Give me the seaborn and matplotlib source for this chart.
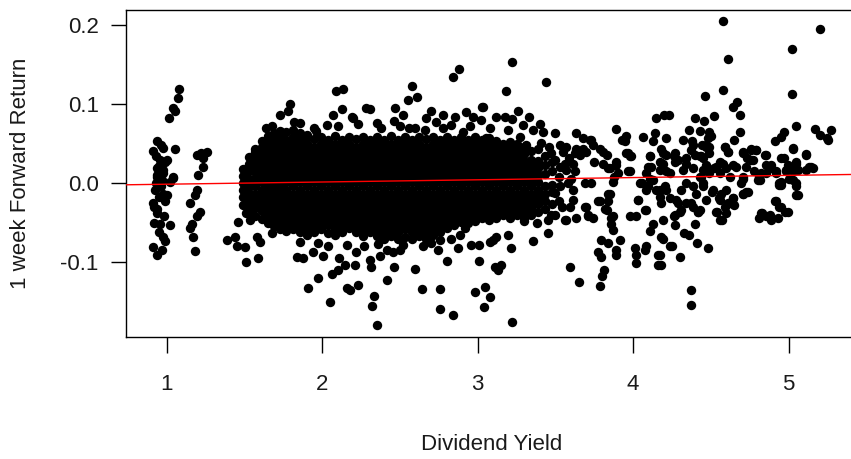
import matplotlib
matplotlib.use("Agg")
import matplotlib.pyplot as plt
import pandas as pd
import seaborn as sns

# ------------------------------------------------------------------
# Data (dividend yield, 1-week return)
# ------------------------------------------------------------------
cluster_near_1 = [
    (1.081, 0.119), (1.071, 0.108), (1.043, 0.095), (1.053, 0.091), (1.013, 0.082),
    (0.940, 0.054), (0.914, 0.041), (0.978, 0.045), (1.053, 0.043), (0.957, 0.029),
    (0.989, 0.027), (0.936, 0.019), (0.957, 0.015), (0.978, 0.017), (0.936, 0.008),
    (1.043, 0.007), (0.936, 0.010), (0.978, 0.013), (1.043, 0.008), (0.925, -0.008),
    (0.978, -0.013), (1.000, -0.015), (0.914, -0.025), (0.936, -0.032), (0.936, -0.038),
    (0.957, -0.051), (1.021, -0.053), (0.978, -0.068), (0.989, -0.073), (0.910, -0.081),
    (0.936, -0.091), (0.968, -0.085), (0.930, 0.035), (0.950, 0.022), (0.970, 0.004),
    (0.930, 0.000), (0.960, -0.004), (0.950, -0.018), (0.920, -0.050), (0.950, -0.062),
    (0.980, -0.042), (1.000, 0.030), (1.020, 0.002), (0.990, -0.022), (0.960, 0.048),
    (0.920, -0.030),
]

cluster_near_1_2 = [
    (1.193, 0.036), (1.261, 0.040), (1.235, 0.032), (1.235, 0.021), (1.203, 0.011),
    (1.193, -0.008), (1.182, -0.015), (1.150, -0.025), (1.214, -0.036), (1.193, -0.042),
    (1.160, -0.051), (1.150, -0.057), (1.170, -0.068), (1.180, -0.086), (1.220, 0.038),
]

# dense core, column by column (x, returns)
core_columns = [
    (1.490, [0.018, 0.009, 0.000, -0.009, -0.018, -0.027]),
    (1.530, [0.033, 0.024, 0.015, 0.006, -0.003, -0.012, -0.021, -0.030, -0.038]),
    (1.570, [0.043, 0.032, 0.023, 0.014, 0.005, -0.004, -0.013, -0.022, -0.031, -0.041]),
    (1.610, [0.053, 0.046, 0.037, 0.028, 0.019, 0.010, 0.001, -0.008, -0.017, -0.026, -0.035, -0.045]),
    (1.650, [0.060, 0.050, 0.041, 0.032, 0.023, 0.014, 0.005, -0.004, -0.013, -0.022, -0.031, -0.040, -0.050]),
    (1.690, [0.064, 0.055, 0.046, 0.037, 0.028, 0.019, 0.010, 0.001, -0.008, -0.017, -0.026, -0.035, -0.044, -0.054]),
    (1.730, [0.066, 0.059, 0.050, 0.041, 0.032, 0.023, 0.014, 0.005, -0.004, -0.013, -0.022, -0.031, -0.040, -0.049, -0.058]),
    (1.770, [0.065, 0.055, 0.046, 0.037, 0.028, 0.019, 0.010, 0.001, -0.008, -0.017, -0.026, -0.035, -0.044, -0.053, -0.060]),
    (1.810, [0.068, 0.059, 0.050, 0.041, 0.032, 0.023, 0.014, 0.005, -0.004, -0.013, -0.022, -0.031, -0.040, -0.049, -0.058]),
    (1.855, [0.063, 0.055, 0.046, 0.037, 0.028, 0.019, 0.010, 0.001, -0.008, -0.017, -0.026, -0.035, -0.044, -0.053, -0.062]),
    (1.900, [0.059, 0.050, 0.041, 0.032, 0.023, 0.014, 0.005, -0.004, -0.013, -0.022, -0.031, -0.040, -0.049, -0.058, -0.065]),
    (1.945, [0.056, 0.046, 0.037, 0.028, 0.019, 0.010, 0.001, -0.008, -0.017, -0.026, -0.035, -0.044, -0.053, -0.062]),
    (1.990, [0.058, 0.050, 0.041, 0.032, 0.023, 0.014, 0.005, -0.004, -0.013, -0.022, -0.031, -0.040, -0.049, -0.058]),
    (2.035, [0.055, 0.046, 0.037, 0.028, 0.019, 0.010, 0.001, -0.008, -0.017, -0.026, -0.035, -0.044, -0.053, -0.063]),
    (2.080, [0.060, 0.050, 0.041, 0.032, 0.023, 0.014, 0.005, -0.004, -0.013, -0.022, -0.031, -0.040, -0.049, -0.058, -0.066]),
    (2.125, [0.055, 0.046, 0.037, 0.028, 0.019, 0.010, 0.001, -0.008, -0.017, -0.026, -0.035, -0.044, -0.053, -0.062]),
    (2.170, [0.059, 0.050, 0.041, 0.032, 0.023, 0.014, 0.005, -0.004, -0.013, -0.022, -0.031, -0.040, -0.049, -0.057]),
    (2.215, [0.056, 0.046, 0.037, 0.028, 0.019, 0.010, 0.001, -0.008, -0.017, -0.026, -0.035, -0.044, -0.053, -0.062]),
    (2.260, [0.059, 0.050, 0.041, 0.032, 0.023, 0.014, 0.005, -0.004, -0.013, -0.022, -0.031, -0.040, -0.049, -0.058, -0.067]),
    (2.305, [0.055, 0.046, 0.037, 0.028, 0.019, 0.010, 0.001, -0.008, -0.017, -0.026, -0.035, -0.044, -0.053, -0.062]),
    (2.350, [0.058, 0.050, 0.041, 0.032, 0.023, 0.014, 0.005, -0.004, -0.013, -0.022, -0.031, -0.040, -0.049, -0.058, -0.067]),
    (2.395, [0.055, 0.046, 0.037, 0.028, 0.019, 0.010, 0.001, -0.008, -0.017, -0.026, -0.035, -0.044, -0.053, -0.062, -0.071]),
    (2.440, [0.060, 0.050, 0.041, 0.032, 0.023, 0.014, 0.005, -0.004, -0.013, -0.022, -0.031, -0.040, -0.049, -0.058, -0.067]),
    (2.485, [0.055, 0.046, 0.037, 0.028, 0.019, 0.010, 0.001, -0.008, -0.017, -0.026, -0.035, -0.044, -0.053, -0.062, -0.070]),
    (2.530, [0.059, 0.050, 0.041, 0.032, 0.023, 0.014, 0.005, -0.004, -0.013, -0.022, -0.031, -0.040, -0.049, -0.058, -0.068]),
    (2.575, [0.055, 0.046, 0.037, 0.028, 0.019, 0.010, 0.001, -0.008, -0.017, -0.026, -0.035, -0.044, -0.053, -0.062, -0.071]),
    (2.620, [0.058, 0.050, 0.041, 0.032, 0.023, 0.014, 0.005, -0.004, -0.013, -0.022, -0.031, -0.040, -0.049, -0.058, -0.067]),
    (2.665, [0.056, 0.046, 0.037, 0.028, 0.019, 0.010, 0.001, -0.008, -0.017, -0.026, -0.035, -0.044, -0.053, -0.062, -0.071]),
    (2.710, [0.059, 0.050, 0.041, 0.032, 0.023, 0.014, 0.005, -0.004, -0.013, -0.022, -0.031, -0.040, -0.049, -0.058, -0.066]),
    (2.755, [0.055, 0.046, 0.037, 0.028, 0.019, 0.010, 0.001, -0.008, -0.017, -0.026, -0.035, -0.044, -0.053, -0.062]),
    (2.800, [0.058, 0.050, 0.041, 0.032, 0.023, 0.014, 0.005, -0.004, -0.013, -0.022, -0.031, -0.040, -0.049, -0.057]),
    (2.845, [0.055, 0.046, 0.037, 0.028, 0.019, 0.010, 0.001, -0.008, -0.017, -0.026, -0.035, -0.044, -0.053]),
    (2.890, [0.059, 0.050, 0.041, 0.032, 0.023, 0.014, 0.005, -0.004, -0.013, -0.022, -0.031, -0.040, -0.049]),
    (2.935, [0.055, 0.046, 0.037, 0.028, 0.019, 0.010, 0.001, -0.008, -0.017, -0.026, -0.035, -0.044, -0.050]),
    (2.980, [0.058, 0.050, 0.041, 0.032, 0.023, 0.014, 0.005, -0.004, -0.013, -0.022, -0.031, -0.040, -0.048]),
    (3.025, [0.055, 0.046, 0.037, 0.028, 0.019, 0.010, 0.001, -0.008, -0.017, -0.026, -0.035, -0.044]),
    (3.070, [0.057, 0.050, 0.041, 0.032, 0.023, 0.014, 0.005, -0.004, -0.013, -0.022, -0.031, -0.040, -0.046]),
    (3.115, [0.054, 0.046, 0.037, 0.028, 0.019, 0.010, 0.001, -0.008, -0.017, -0.026, -0.035, -0.044]),
    (3.160, [0.050, 0.041, 0.032, 0.023, 0.014, 0.005, -0.004, -0.013, -0.022, -0.031, -0.040]),
    (3.205, [0.052, 0.046, 0.037, 0.028, 0.019, 0.010, 0.001, -0.008, -0.017, -0.026, -0.035, -0.044]),
    (3.250, [0.050, 0.041, 0.032, 0.023, 0.014, 0.005, -0.004, -0.013, -0.022, -0.031, -0.040]),
    (3.295, [0.046, 0.037, 0.028, 0.019, 0.010, 0.001, -0.008, -0.017, -0.026, -0.035, -0.044]),
    (3.340, [0.041, 0.030, 0.023, 0.014, 0.005, -0.004, -0.013, -0.022, -0.031, -0.040]),
    (3.385, [0.044, 0.028, 0.019, 0.010, 0.001, -0.008, -0.017, -0.026, -0.037]),
    (3.430, [0.034, 0.023, 0.012, -0.004, -0.013, -0.022, -0.033]),
    (3.475, [0.027, 0.016, -0.002, -0.011, -0.026]),
]

upper_edge = [
    (1.792, 0.100), (1.730, 0.086), (1.780, 0.091), (1.820, 0.077), (1.640, 0.070),
    (1.675, 0.072), (1.567, 0.040), (1.730, 0.063), (2.088, 0.117), (2.131, 0.119),
    (2.070, 0.086), (2.130, 0.094), (2.190, 0.084), (2.200, 0.082), (2.280, 0.095),
    (2.310, 0.094), (2.350, 0.076), (2.030, 0.074), (1.960, 0.066), (1.900, 0.061),
    (1.857, 0.076), (2.470, 0.095), (2.520, 0.086), (2.575, 0.123), (2.554, 0.105),
    (2.610, 0.109), (2.463, 0.079), (2.500, 0.072), (2.600, 0.070), (2.700, 0.092),
    (2.670, 0.082), (2.735, 0.078), (2.778, 0.086), (2.842, 0.135), (2.880, 0.144),
    (2.853, 0.084), (2.830, 0.074), (2.928, 0.090), (2.970, 0.084), (3.030, 0.097),
    (3.024, 0.080), (2.906, 0.065), (3.056, 0.057), (3.221, 0.154), (3.180, 0.117),
    (3.440, 0.128), (3.035, 0.096), (3.120, 0.084), (3.174, 0.084), (3.220, 0.081),
    (3.260, 0.092), (3.330, 0.084), (3.290, 0.074), (3.400, 0.075), (3.195, 0.067),
    (3.356, 0.067), (3.420, 0.065), (3.495, 0.063), (3.630, 0.064), (3.680, 0.057),
    (3.720, 0.055), (3.890, 0.069), (3.956, 0.060), (3.930, 0.055), (4.063, 0.058),
    (4.140, 0.063), (4.127, 0.054), (4.150, 0.082), (4.200, 0.087), (4.210, 0.057),
    (3.270, 0.059), (3.310, 0.048), (3.410, 0.051), (3.474, 0.038), (3.530, 0.048),
    (3.550, 0.040), (3.590, 0.032), (3.635, 0.044), (3.656, 0.036), (3.700, 0.040),
    (3.730, 0.055), (3.785, 0.044), (3.830, 0.036), (3.750, 0.027), (3.890, 0.027),
    (3.840, 0.019), (3.956, 0.038), (3.980, 0.034), (3.966, 0.015), (3.880, 0.008),
    (4.106, 0.034), (4.095, 0.020), (4.106, 0.006), (4.170, 0.027), (4.190, 0.038),
    (4.210, 0.015), (1.950, 0.070), (2.100, 0.072), (2.230, 0.075), (2.380, 0.070),
    (2.560, 0.070), (2.660, 0.068), (2.780, 0.070), (2.950, 0.072), (3.080, 0.070),
    (3.460, 0.046), (3.500, 0.030), (3.520, 0.008), (3.560, 0.024), (3.600, 0.006),
]

lower_edge = [
    (1.386, -0.072), (1.440, -0.068), (1.450, -0.079), (1.503, -0.081), (1.510, -0.100),
    (1.590, -0.095), (1.460, -0.049), (1.535, -0.046), (1.510, -0.038), (1.580, -0.068),
    (1.600, -0.074), (1.675, -0.063), (1.835, -0.093), (1.878, -0.095), (1.910, -0.133),
    (1.857, -0.074), (1.942, -0.087), (1.974, -0.120), (2.050, -0.150), (2.060, -0.115),
    (2.100, -0.110), (2.006, -0.092), (2.110, -0.095), (2.146, -0.103), (2.157, -0.133),
    (2.178, -0.135), (2.210, -0.103), (2.230, -0.129), (2.220, -0.087), (2.317, -0.106),
    (2.306, -0.097), (2.332, -0.143), (2.320, -0.155), (2.350, -0.179), (2.370, -0.092),
    (2.420, -0.084), (2.456, -0.087), (2.463, -0.106), (2.420, -0.123), (2.500, -0.084),
    (2.600, -0.108), (2.640, -0.134), (2.757, -0.072), (2.745, -0.084), (2.800, -0.099),
    (2.760, -0.134), (2.760, -0.159), (2.840, -0.167), (2.874, -0.082), (2.885, -0.065),
    (2.920, -0.057), (2.960, -0.078), (3.010, -0.078), (3.010, -0.099), (2.980, -0.138),
    (3.045, -0.131), (3.078, -0.144), (3.040, -0.157), (3.078, -0.074), (3.100, -0.072),
    (3.120, -0.068), (3.217, -0.082), (3.195, -0.065), (3.356, -0.073), (3.110, -0.106),
    (3.150, -0.103), (3.130, -0.110), (3.220, -0.176), (3.450, -0.063), (3.560, -0.046),
    (3.635, -0.044), (3.710, -0.042), (3.700, -0.030), (3.596, -0.106), (3.650, -0.125),
    (1.970, -0.075), (2.040, -0.080), (2.160, -0.078), (2.270, -0.080), (2.360, -0.077),
    (2.520, -0.078), (2.650, -0.080), (2.700, -0.076), (2.830, -0.070), (3.300, -0.048),
    (3.380, -0.050), (3.450, -0.046), (3.500, -0.040), (3.500, -0.012), (3.540, -0.030),
    (3.470, -0.040), (3.520, -0.022),
]

east_points = [
    (3.774, -0.023), (3.830, -0.034), (3.840, -0.013), (3.860, -0.044), (3.860, -0.051),
    (3.870, -0.059), (3.795, -0.072), (3.774, -0.087), (3.795, -0.093), (3.840, -0.076),
    (3.913, -0.072), (3.890, -0.084), (3.890, -0.091), (3.810, -0.110), (3.800, -0.118),
    (3.790, -0.130), (3.980, -0.042), (4.020, -0.042), (4.030, -0.021), (4.085, -0.034),
    (4.010, -0.082), (4.020, -0.091), (4.020, -0.101), (4.085, -0.080), (4.075, -0.084),
    (4.127, -0.051), (4.106, -0.061), (4.180, -0.068), (4.160, -0.091), (4.160, -0.103),
    (4.235, -0.079), (4.170, -0.008), (4.085, -0.008), (4.060, 0.000),
    (3.571, 0.046), (3.624, 0.038), (3.678, 0.044), (3.742, 0.049), (3.806, 0.040),
    (3.946, 0.053), (3.967, 0.038), (3.989, 0.034), (4.106, 0.034), (4.117, 0.021),
    (4.214, 0.036), (4.267, 0.038), (4.289, 0.030), (4.374, 0.042), (4.385, 0.049),
    (4.449, 0.032), (4.471, 0.046), (3.528, 0.021), (3.571, 0.017), (3.624, 0.015),
    (3.614, 0.025), (3.806, 0.025), (3.849, 0.019), (3.892, 0.023), (3.903, 0.013),
    (3.978, 0.015), (4.085, 0.013), (4.171, 0.017), (4.192, 0.025), (4.235, 0.013),
    (4.267, 0.027), (4.321, 0.017), (4.342, 0.025), (4.385, 0.019), (4.449, 0.017),
    (4.471, 0.023), (4.428, 0.008), (3.528, -0.004), (3.582, 0.000), (3.614, -0.009),
    (3.689, 0.000), (3.731, 0.000), (3.871, 0.002), (3.849, -0.013), (3.839, -0.023),
    (3.785, -0.023), (3.817, -0.032), (3.689, -0.030), (3.710, -0.040), (3.614, -0.021),
    (3.592, -0.030), (3.571, -0.047), (4.042, 0.000), (4.031, -0.021), (4.074, -0.034),
    (4.096, -0.004), (4.128, 0.004), (4.149, -0.009), (4.171, -0.017), (4.203, -0.004),
    (4.235, -0.019), (4.278, -0.021), (4.310, -0.009), (4.342, 0.000), (4.385, -0.004),
    (4.374, -0.025), (4.406, -0.013), (4.449, 0.000), (4.471, -0.021), (4.417, -0.036),
    (4.299, -0.036), (4.267, -0.040), (3.742, -0.044), (3.871, -0.042),
    (4.180, -0.025), (4.190, -0.046), (4.210, -0.008), (4.260, -0.042), (4.270, -0.053),
    (4.290, -0.025), (4.310, -0.034), (4.340, -0.025), (4.385, -0.030), (4.420, -0.037),
    (4.400, -0.051), (4.330, -0.063), (4.360, -0.065), (4.410, -0.075), (4.480, -0.082),
    (4.300, -0.093), (4.250, -0.080), (4.190, -0.070), (4.170, -0.091), (4.180, -0.103),
    (4.370, -0.135), (4.370, -0.154),
]

far_east_points = [
    (4.580, 0.205), (5.200, 0.195), (5.020, 0.170), (4.610, 0.157), (4.580, 0.118),
    (4.460, 0.111), (5.020, 0.113), (4.640, 0.097), (4.670, 0.103), (4.690, 0.086),
    (4.520, 0.085), (4.455, 0.079), (4.400, 0.082), (4.230, 0.086), (4.690, 0.065),
    (4.650, 0.055), (4.590, 0.046), (4.610, 0.040), (4.360, 0.068), (4.430, 0.066),
    (4.490, 0.065), (4.500, 0.060), (4.320, 0.055), (4.380, 0.053), (4.440, 0.048),
    (4.490, 0.046), (4.480, 0.057), (4.180, 0.044), (4.260, 0.034), (4.340, 0.032),
    (4.400, 0.036), (4.430, 0.034), (5.050, 0.073), (4.970, 0.065), (4.950, 0.059),
    (4.910, 0.053), (5.170, 0.069), (5.200, 0.061), (5.250, 0.057), (5.270, 0.067),
    (5.030, 0.045), (5.110, 0.037), (4.970, 0.032), (5.050, 0.027), (5.130, 0.021),
    (5.155, 0.019), (4.760, 0.043), (4.790, 0.042), (4.705, 0.040), (4.850, 0.036),
    (4.730, 0.032), (4.760, 0.030), (4.557, 0.027), (4.600, 0.019), (4.660, 0.021),
    (4.520, 0.019), (4.856, 0.023), (4.888, 0.019), (4.920, 0.015), (4.985, 0.017),
    (5.027, 0.015), (4.470, 0.049), (4.491, 0.038), (4.438, 0.034), (4.588, 0.046),
    (4.609, 0.040), (4.705, 0.038), (4.759, 0.042), (4.791, 0.042), (4.855, 0.036),
    (4.888, 0.023), (4.952, 0.032), (4.995, 0.023), (5.027, 0.044), (5.048, 0.025),
    (5.112, 0.036), (5.145, 0.021), (5.252, 0.055), (4.770, 0.030), (4.727, 0.021),
    (4.641, 0.023), (4.577, 0.025), (4.534, 0.021), (4.470, 0.017), (4.438, 0.008),
    (4.491, 0.013), (4.556, 0.013), (4.620, 0.008), (4.705, 0.008), (4.780, 0.015),
    (4.823, 0.013), (4.855, 0.013), (4.920, 0.013), (4.984, 0.015), (5.059, 0.017),
    (5.112, 0.017), (4.813, 0.004), (4.941, 0.000), (5.005, 0.006), (5.048, 0.000),
    (5.048, -0.015), (4.952, -0.002), (4.448, -0.004), (4.513, -0.009), (4.566, -0.013),
    (4.598, -0.009), (4.641, -0.019), (4.556, -0.021), (4.620, -0.025), (4.705, -0.013),
    (4.727, -0.011), (4.427, -0.034), (4.534, -0.036), (4.920, -0.023), (4.952, -0.030),
    (4.995, -0.036), (4.823, -0.038), (4.855, -0.042), (4.888, -0.047), (4.556, -0.047),
    (4.510, -0.011), (4.550, -0.019), (4.570, -0.046), (4.540, -0.036), (4.590, -0.030),
    (4.640, -0.019), (4.650, -0.027), (4.610, -0.025), (4.600, -0.038), (4.705, -0.013),
    (4.740, -0.011), (4.695, 0.000), (4.800, 0.004), (4.810, 0.008), (4.705, 0.006),
    (4.910, -0.023), (4.940, -0.030), (4.980, -0.036), (4.930, -0.044), (4.880, -0.040),
    (4.810, -0.044), (4.830, -0.038), (5.060, -0.015), (5.050, -0.004), (4.940, -0.002),
    (4.950, 0.002), (5.030, 0.004),
]

# fitted regression line (red), read from its two ends
reg_intercept = -0.0040
reg_slope = 0.0028

x_ticks = [1, 2, 3, 4, 5]
y_ticks = [-0.1, 0.0, 0.1, 0.2]
y_tick_labels = ["-0.1", "0.0", "0.1", "0.2"]

# ------------------------------------------------------------------
points = cluster_near_1 + cluster_near_1_2 + upper_edge + lower_edge + east_points + far_east_points
for cx, ys in core_columns:
    for cy in ys:
        points.append((cx, cy))
df = pd.DataFrame(points, columns=["Dividend Yield", "1 week Forward Return"])

sns.set_theme(style="white")
plt.rcParams["font.family"] = ["Liberation Sans", "DejaVu Sans"]

W, H = 851, 459
fig = plt.figure(figsize=(W / 100, H / 100), dpi=100)
left, right, top, bottom = 126.3, 857.0, 10.0, 336.7
ax = fig.add_axes([left / W, 1 - bottom / H, (right - left) / W, (bottom - top) / H])

sns.scatterplot(data=df, x="Dividend Yield", y="1 week Forward Return",
                color="black", s=46, linewidth=0, legend=False, ax=ax, zorder=2)
ax.axline((0, reg_intercept), slope=reg_slope, color="#ff0000", lw=1.0, zorder=3)

ax.set_xlim(0.74, 5.44)
ax.set_ylim(-0.1942, 0.2193)
ax.set_xticks(x_ticks)
ax.set_xticklabels([str(t) for t in x_ticks])
ax.set_yticks(y_ticks)
ax.set_yticklabels(y_tick_labels)

for sp in ax.spines.values():
    sp.set_visible(True)
    sp.set_color("black")
    sp.set_linewidth(1.0)

ax.tick_params(axis="both", which="major", direction="out", width=1.0,
               color="black", labelsize=16, labelcolor="#1a1a1a",
               bottom=True, left=True, top=False, right=False)
ax.tick_params(axis="x", length=11.5, pad=15)
ax.tick_params(axis="y", length=10.8, pad=9)
ax.grid(False)

ax.set_xlabel("Dividend Yield", fontsize=16, color="#1a1a1a")
ax.set_ylabel("1 week Forward Return", fontsize=16, color="#1a1a1a")
ax.xaxis.set_label_coords(0.5, (bottom - 444) / (bottom - top))
ax.xaxis.label.set_va("center")
ax.yaxis.set_label_coords((21 - left) / (right - left), 0.5)
ax.yaxis.label.set_va("center")

fig.savefig("out.png", dpi=100)
